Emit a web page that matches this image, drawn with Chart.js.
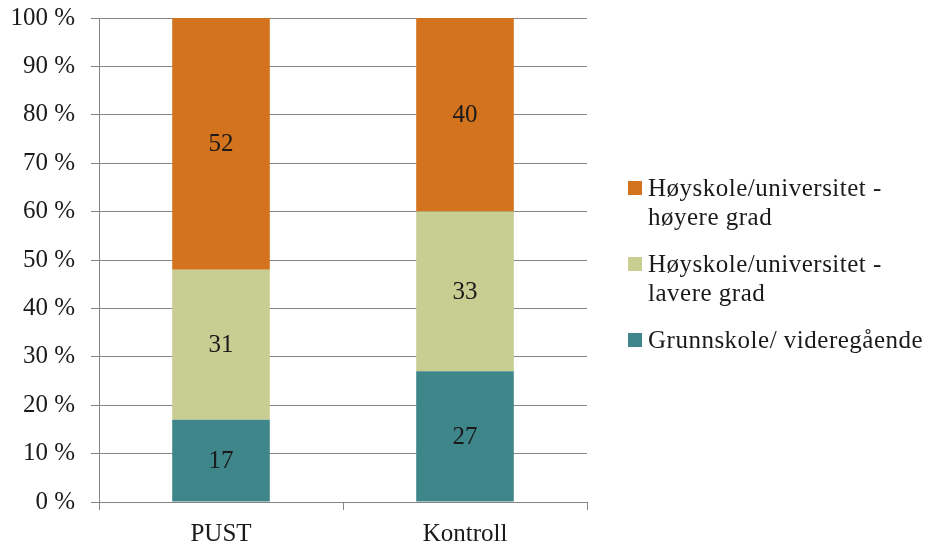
<!DOCTYPE html>
<html>
<head>
<meta charset="utf-8">
<script src="https://cdn.jsdelivr.net/npm/chart.js@4/dist/chart.umd.min.js"></script>
<style>
  html, body { margin: 0; padding: 0; background: #ffffff; }
  #wrap { width: 928px; height: 545px; position: relative; }
</style>
</head>
<body>
<div id="wrap"><canvas id="c" width="928" height="545"></canvas></div>
<script>
// Education level by group (percent of respondents)
const categories = ['PUST', 'Kontroll'];
const grunnskole = [17, 27];
const lavereGrad = [31, 33];
const hoyereGrad = [52, 40];
const seriesNames = [
  'Grunnskole/ videregående',
  'Høyskole/universitet - lavere grad',
  'Høyskole/universitet - høyere grad'
];
const yTickLabels = ['0 %', '10 %', '20 %', '30 %', '40 %', '50 %', '60 %', '70 %', '80 %', '90 %', '100 %'];

const FONT = "'Liberation Serif', 'Times New Roman', serif";
const TEXT = '#1a1a1a';
const GRID = '#858585';

// Writes each segment's value in the middle of its bar piece
const valueLabels = {
  id: 'valueLabels',
  afterDatasetsDraw(chart) {
    const ctx = chart.ctx;
    ctx.save();
    ctx.font = '25px ' + FONT;
    ctx.fillStyle = TEXT;
    ctx.textAlign = 'center';
    ctx.textBaseline = 'middle';
    chart.data.datasets.forEach((ds, di) => {
      const meta = chart.getDatasetMeta(di);
      meta.data.forEach((bar, i) => {
        const y = (bar.y + bar.base) / 2;
        ctx.fillText(String(ds.data[i]), bar.x, y + 1);
      });
    });
    ctx.restore();
  }
};

// Legend at the right, with wrapped labels, top series listed first
const sideLegend = {
  id: 'sideLegend',
  afterDraw(chart) {
    const ctx = chart.ctx;
    ctx.save();
    ctx.font = '25px ' + FONT;
    if ('letterSpacing' in ctx) ctx.letterSpacing = '0.5px';
    ctx.fillStyle = TEXT;
    ctx.textBaseline = 'middle';
    ctx.textAlign = 'left';
    const boxX = 628, box = 14, textX = 648, maxW = 278;
    const lineH = 29, gap = 47;
    let y = 188;
    const ds = chart.data.datasets.slice().reverse();
    ds.forEach(d => {
      const words = d.label.split(' ');
      const lines = [];
      let cur = '';
      words.forEach(w => {
        const t = cur ? cur + ' ' + w : w;
        if (ctx.measureText(t).width > maxW && cur) { lines.push(cur); cur = w; }
        else cur = t;
      });
      if (cur) lines.push(cur);
      ctx.fillStyle = d.backgroundColor;
      ctx.fillRect(boxX, y - box / 2, box, box);
      ctx.fillStyle = TEXT;
      lines.forEach((ln, k) => ctx.fillText(ln, textX, y + k * lineH + 1));
      y += (lines.length - 1) * lineH + gap;
    });
    ctx.restore();
  }
};

new Chart(document.getElementById('c'), {
  type: 'bar',
  data: {
    labels: categories,
    datasets: [
      { label: seriesNames[0], data: grunnskole, backgroundColor: '#3f868a' },
      { label: seriesNames[1], data: lavereGrad, backgroundColor: '#c8cd91' },
      { label: seriesNames[2], data: hoyereGrad, backgroundColor: '#d3731d' }
    ]
  },
  options: {
    responsive: false,
    animation: false,
    devicePixelRatio: 1,
    layout: { padding: { top: 18, right: 341, left: 0, bottom: 0 } },
    datasets: { bar: { categoryPercentage: 0.4, barPercentage: 1 } },
    plugins: { legend: { display: false }, tooltip: { enabled: false } },
    scales: {
      x: {
        stacked: true,
        grid: { display: true, drawOnChartArea: false, drawTicks: true, tickLength: 8, color: GRID, lineWidth: 1 },
        border: { display: true, color: GRID, width: 1 },
        ticks: { color: TEXT, font: { family: FONT, size: 25 }, padding: 9, maxRotation: 0 },
        afterFit(scale) { scale.height = 43; }
      },
      y: {
        stacked: true,
        min: 0,
        max: 100,
        grid: { color: GRID, lineWidth: 1, drawTicks: true, tickLength: 8 },
        border: { display: true, color: GRID, width: 1 },
        ticks: {
          stepSize: 10,
          color: TEXT,
          font: { family: FONT, size: 25 },
          padding: 16,
          callback: (v, i) => yTickLabels[i]
        },
        afterFit(scale) {
          scale.width = 99;
          scale.paddingTop = 0;
          scale.paddingBottom = 0;
        }
      }
    }
  },
  plugins: [valueLabels, sideLegend]
});
</script>
</body>
</html>
